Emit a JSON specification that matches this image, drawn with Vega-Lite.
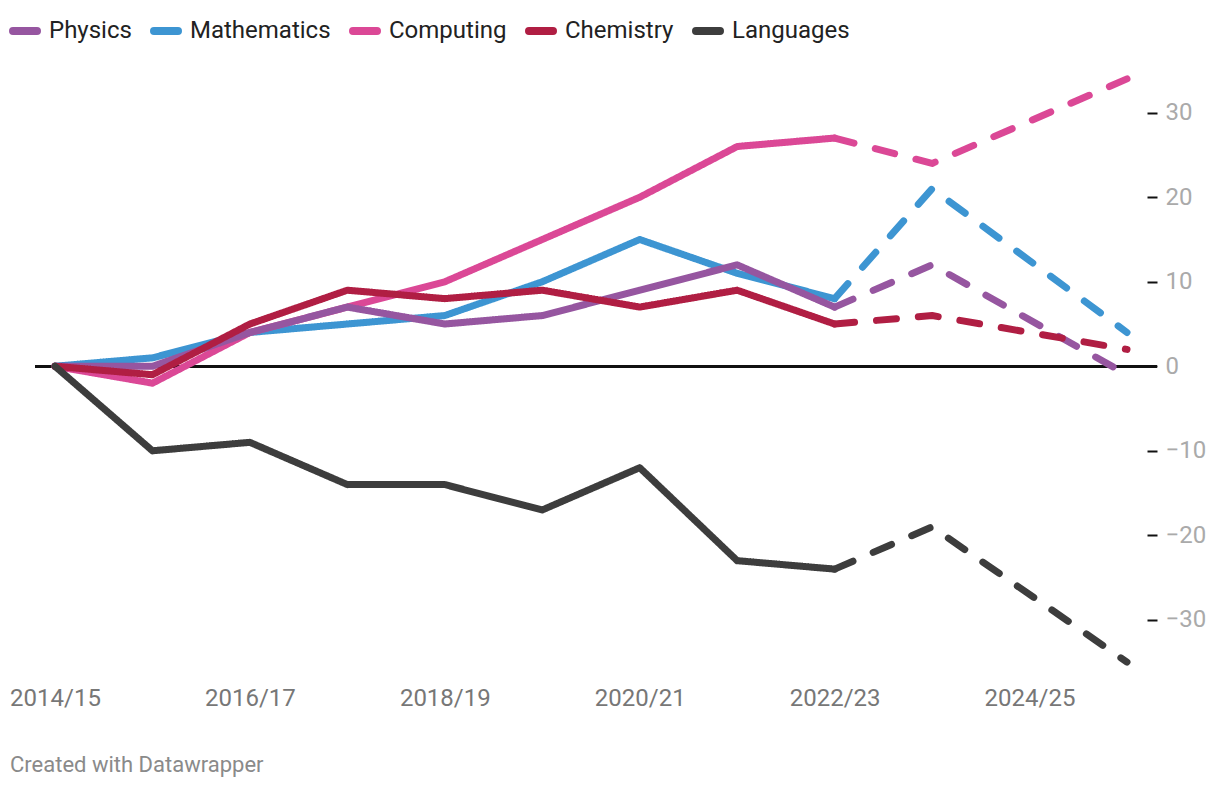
{
  "$schema": "https://vega.github.io/schema/vega-lite/v6.json",
  "width": 1122,
  "height": 617,
  "autosize": {"type": "none"},
  "padding": {"left": 35, "top": 62, "right": 63, "bottom": 109},
  "background": "white",
  "config": {"view": {"stroke": null}, "font": "Roboto"},
  "title": {
    "text": "Created with Datawrapper",
    "orient": "bottom",
    "anchor": "start",
    "frame": "group",
    "dx": -25,
    "offset": 45,
    "fontSize": 22,
    "fontWeight": "normal",
    "color": "#8a8a8a",
    "font": "Roboto"
  },
  "data": {
    "values": [
      {"subject": "Mathematics", "year": 2014, "value": 0, "phase": "actual"},
      {"subject": "Mathematics", "year": 2015, "value": 1, "phase": "actual"},
      {"subject": "Mathematics", "year": 2016, "value": 4, "phase": "actual"},
      {"subject": "Mathematics", "year": 2017, "value": 5, "phase": "actual"},
      {"subject": "Mathematics", "year": 2018, "value": 6, "phase": "actual"},
      {"subject": "Mathematics", "year": 2019, "value": 10, "phase": "actual"},
      {"subject": "Mathematics", "year": 2020, "value": 15, "phase": "actual"},
      {"subject": "Mathematics", "year": 2021, "value": 11, "phase": "actual"},
      {"subject": "Mathematics", "year": 2022, "value": 8, "phase": "actual"},
      {"subject": "Mathematics", "year": 2022, "value": 8, "phase": "projected"},
      {"subject": "Mathematics", "year": 2023, "value": 21, "phase": "projected"},
      {"subject": "Mathematics", "year": 2025, "value": 4, "phase": "projected"},
      {"subject": "Computing", "year": 2014, "value": 0, "phase": "actual"},
      {"subject": "Computing", "year": 2015, "value": -2, "phase": "actual"},
      {"subject": "Computing", "year": 2016, "value": 4, "phase": "actual"},
      {"subject": "Computing", "year": 2017, "value": 7, "phase": "actual"},
      {"subject": "Computing", "year": 2018, "value": 10, "phase": "actual"},
      {"subject": "Computing", "year": 2019, "value": 15, "phase": "actual"},
      {"subject": "Computing", "year": 2020, "value": 20, "phase": "actual"},
      {"subject": "Computing", "year": 2021, "value": 26, "phase": "actual"},
      {"subject": "Computing", "year": 2022, "value": 27, "phase": "actual"},
      {"subject": "Computing", "year": 2022, "value": 27, "phase": "projected"},
      {"subject": "Computing", "year": 2023, "value": 24, "phase": "projected"},
      {"subject": "Computing", "year": 2025, "value": 34, "phase": "projected"},
      {"subject": "Physics", "year": 2014, "value": 0, "phase": "actual"},
      {"subject": "Physics", "year": 2015, "value": 0, "phase": "actual"},
      {"subject": "Physics", "year": 2016, "value": 4, "phase": "actual"},
      {"subject": "Physics", "year": 2017, "value": 7, "phase": "actual"},
      {"subject": "Physics", "year": 2018, "value": 5, "phase": "actual"},
      {"subject": "Physics", "year": 2019, "value": 6, "phase": "actual"},
      {"subject": "Physics", "year": 2020, "value": 9, "phase": "actual"},
      {"subject": "Physics", "year": 2021, "value": 12, "phase": "actual"},
      {"subject": "Physics", "year": 2022, "value": 7, "phase": "actual"},
      {"subject": "Physics", "year": 2022, "value": 7, "phase": "projected"},
      {"subject": "Physics", "year": 2023, "value": 12, "phase": "projected"},
      {"subject": "Physics", "year": 2025, "value": -1, "phase": "projected"},
      {"subject": "Chemistry", "year": 2014, "value": 0, "phase": "actual"},
      {"subject": "Chemistry", "year": 2015, "value": -1, "phase": "actual"},
      {"subject": "Chemistry", "year": 2016, "value": 5, "phase": "actual"},
      {"subject": "Chemistry", "year": 2017, "value": 9, "phase": "actual"},
      {"subject": "Chemistry", "year": 2018, "value": 8, "phase": "actual"},
      {"subject": "Chemistry", "year": 2019, "value": 9, "phase": "actual"},
      {"subject": "Chemistry", "year": 2020, "value": 7, "phase": "actual"},
      {"subject": "Chemistry", "year": 2021, "value": 9, "phase": "actual"},
      {"subject": "Chemistry", "year": 2022, "value": 5, "phase": "actual"},
      {"subject": "Chemistry", "year": 2022, "value": 5, "phase": "projected"},
      {"subject": "Chemistry", "year": 2023, "value": 6, "phase": "projected"},
      {"subject": "Chemistry", "year": 2025, "value": 2, "phase": "projected"},
      {"subject": "Languages", "year": 2014, "value": 0, "phase": "actual"},
      {"subject": "Languages", "year": 2015, "value": -10, "phase": "actual"},
      {"subject": "Languages", "year": 2016, "value": -9, "phase": "actual"},
      {"subject": "Languages", "year": 2017, "value": -14, "phase": "actual"},
      {"subject": "Languages", "year": 2018, "value": -14, "phase": "actual"},
      {"subject": "Languages", "year": 2019, "value": -17, "phase": "actual"},
      {"subject": "Languages", "year": 2020, "value": -12, "phase": "actual"},
      {"subject": "Languages", "year": 2021, "value": -23, "phase": "actual"},
      {"subject": "Languages", "year": 2022, "value": -24, "phase": "actual"},
      {"subject": "Languages", "year": 2022, "value": -24, "phase": "projected"},
      {"subject": "Languages", "year": 2023, "value": -19, "phase": "projected"},
      {"subject": "Languages", "year": 2025, "value": -35, "phase": "projected"}
    ]
  },
  "layer": [
    {
      "mark": {"type": "rule", "color": "#111111", "strokeWidth": 2},
      "encoding": {"y": {"datum": 0, "type": "quantitative"}}
    },
    {
      "mark": {"type": "line", "strokeWidth": 7, "strokeCap": "round", "strokeJoin": "round"},
      "encoding": {
        "x": {
          "field": "year",
          "type": "quantitative",
          "scale": {"domain": [2013.7948, 2025.3079], "nice": false, "zero": false},
          "axis": {
            "title": null,
            "values": [2014, 2016, 2018, 2020, 2022, 2024],
            "labelExpr": "datum.value + '/' + ((datum.value + 1) % 100)",
            "labelFontSize": 24,
            "labelColor": "#777777",
            "labelFont": "Roboto",
            "ticks": false,
            "tickSize": 0,
            "domain": false,
            "grid": false,
            "labelPadding": 26,
            "labelBaseline": "alphabetic",
            "labelFlush": false,
            "labelOverlap": false
          }
        },
        "y": {
          "field": "value",
          "type": "quantitative",
          "scale": {"domain": [-37, 36], "nice": false, "zero": false},
          "axis": {
            "title": null,
            "orient": "right",
            "offset": -10,
            "values": [-30, -20, -10, 0, 10, 20, 30],
            "tickSize": 10,
            "tickColor": "#111111",
            "tickWidth": 2,
            "labelPadding": 8,
            "labelFontSize": 24,
            "labelColor": "#aaaaaa",
            "labelFont": "Roboto",
            "labelBaseline": "middle",
            "domain": false,
            "grid": false,
            "labelFlush": false,
            "labelOverlap": false
          }
        },
        "color": {
          "field": "subject",
          "type": "nominal",
          "scale": {
            "domain": ["Physics", "Mathematics", "Computing", "Chemistry", "Languages"],
            "range": ["#9656a0", "#3d95d2", "#db4896", "#b01e43", "#3d3d3d"]
          },
          "legend": {
            "title": null,
            "orient": "none",
            "direction": "horizontal",
            "legendX": -26,
            "legendY": -47,
            "symbolType": "stroke",
            "symbolSize": 576,
            "symbolStrokeWidth": 8,
            "symbolDash": [1, 0],
            "labelFontSize": 24,
            "labelColor": "#222222",
            "labelFont": "Roboto",
            "labelOffset": 8,
            "columnPadding": 6,
            "padding": 0,
            "encode": {"symbols": {"update": {"strokeCap": {"value": "round"}}}}
          }
        },
        "strokeDash": {
          "field": "phase",
          "type": "nominal",
          "scale": {"domain": ["actual", "projected"], "range": [[1, 0], [20, 22]]},
          "legend": null
        },
        "detail": {"field": "subject"}
      }
    }
  ]
}
